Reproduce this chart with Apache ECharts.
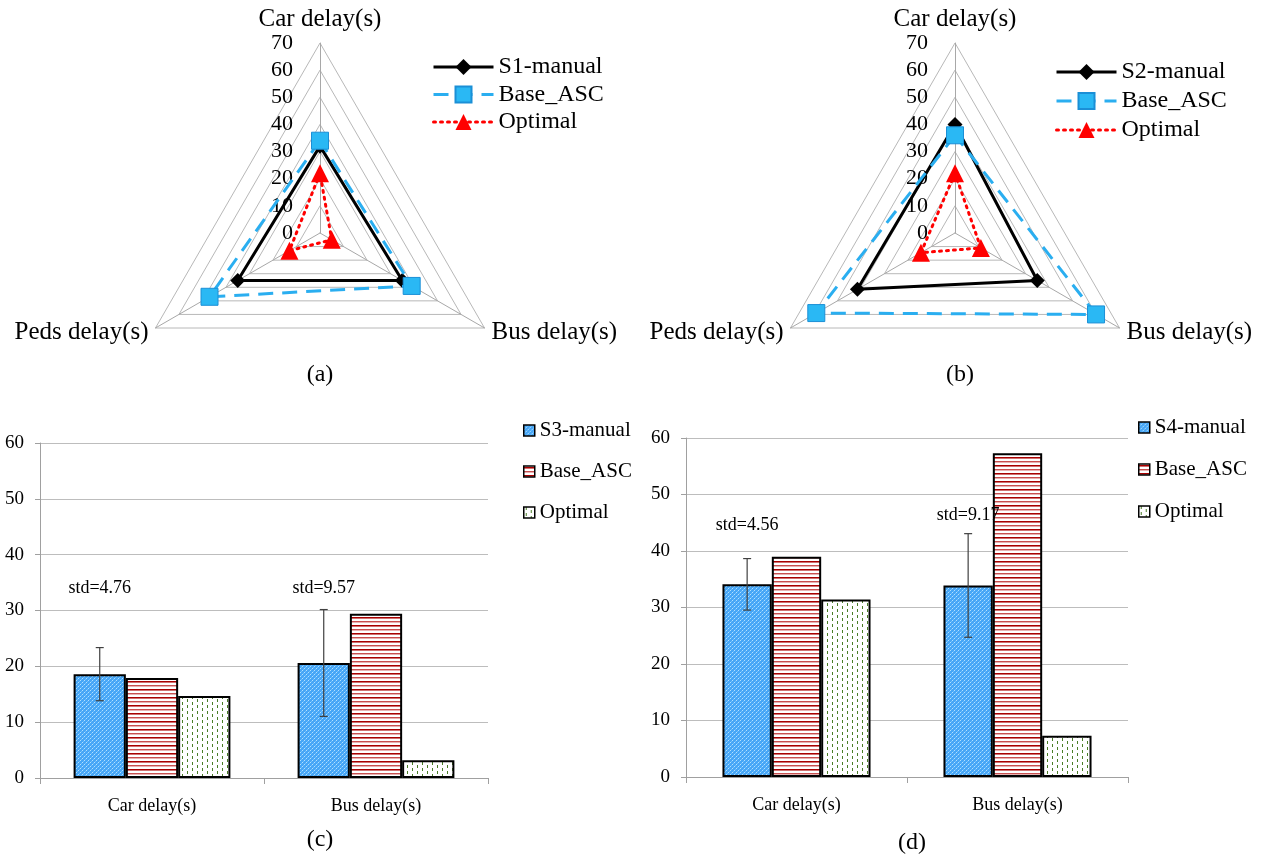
<!DOCTYPE html>
<html>
<head>
<meta charset="utf-8">
<script src="https://cdn.jsdelivr.net/npm/echarts@6/dist/echarts.min.js"></script>
<style>
html,body{margin:0;padding:0;background:#fff;}
#main{width:1261px;height:856px;}
</style>
</head>
<body>
<div id="main"></div>
<script>
// ---------- DATA ----------
const radarAxes = ['Car delay(s)', 'Peds delay(s)', 'Bus delay(s)'];
const radarMax = 70;
const radarTicks = [0, 10, 20, 30, 40, 50, 60, 70];

const radarA_S1 = [32, 35, 35];
const radarA_Base = [34, 47, 39];
const radarA_Opt = [22, 13, 5];

const radarB_S2 = [40, 41.5, 35];
const radarB_Base = [36, 59, 60];
const radarB_Opt = [22, 14.5, 11];

const barCategories = ['Car delay(s)', 'Bus delay(s)'];
const barTicks = [0, 10, 20, 30, 40, 50, 60];

const barC_S3 = [18.6, 20.6];
const barC_Base = [17.9, 29.4];
const barC_Opt = [14.7, 3.2];
const barC_std = [4.76, 9.57];

const barD_S4 = [34.1, 33.9];
const barD_Base = [39.0, 57.3];
const barD_Opt = [31.4, 7.3];
const barD_std = [4.56, 9.17];

const seriesNames = ['S1-manual', 'S2-manual', 'S3-manual', 'S4-manual', 'Base_ASC', 'Optimal'];
const captions = ['(a)', '(b)', '(c)', '(d)'];

// ---------- STYLE / LAYOUT ----------
const FONT = "'Liberation Serif', 'Times New Roman', serif";
const stdLabelYC = [34, 34];
const stdLabelYD = [44.6, 46.3];
const gapC = 0.30, gapD = 0.33;

function makePattern(w, h, bg, pixels) {
  const c = document.createElement('canvas');
  c.width = w; c.height = h;
  const ctx = c.getContext('2d');
  ctx.fillStyle = bg; ctx.fillRect(0, 0, w, h);
  pixels.forEach(p => { ctx.fillStyle = p[4]; ctx.fillRect(p[0], p[1], p[2], p[3]); });
  return { image: c, repeat: 'repeat' };
}
const bluePat = makePattern(4, 4, '#47a6f6', [
  [0,0,1,1,'#b0e0ff'], [2,2,1,1,'#b0e0ff'], [1,3,1,1,'#70c0ff'], [3,1,1,1,'#70c0ff']
]);
const redPat = makePattern(4, 8, '#ffffff', [
  [0,1,4,1,'#a80000'], [0,2,4,1,'#d07070'], [0,5,4,1,'#c85050'], [0,6,4,1,'#e8b0b0']
]);
const greenPat = makePattern(10, 6, '#ffffff', [
  [2,0,1,3,'#4a7d26'], [7,3,1,3,'#4a7d26']
]);

const blueLine = '#2aaef0';
const styleS = { color: '#000', lineStyle: { color: '#000', width: 3, type: 'solid' }, symbol: 'diamond', symbolSize: 15,
  itemStyle: { color: '#000' } };
const styleBase = { color: blueLine, lineStyle: { color: blueLine, width: 3, type: [15, 9] }, symbol: 'rect', symbolSize: 17,
  itemStyle: { color: '#2ab8f4', borderColor: '#1b8fd6', borderWidth: 1 } };
const styleOpt = { color: '#ff0000', lineStyle: { color: '#ff0000', width: 3, type: [2, 5], cap: 'round' }, symbol: 'triangle', symbolSize: 18,
  itemStyle: { color: '#ff0000' } };

function radarComp(cx) {
  return {
    center: [cx, 233], radius: 190, startAngle: 90, shape: 'polygon', splitNumber: radarTicks.length - 1,
    indicator: radarAxes.map((n, i) => {
      const o = { name: n, min: radarTicks[0], max: radarMax };
      if (i === 0) o.axisLabel = { show: true };
      return o;
    }),
    nameGap: 8,
    axisName: { color: '#000', fontFamily: FONT, fontSize: 25 },
    axisLine: { lineStyle: { color: '#a8a8a8', width: 1 } },
    splitLine: { lineStyle: { color: ['#b8b8b8'], width: 1 } },
    splitArea: { show: false },
    axisTick: { show: false },
    axisLabel: { show: false, color: '#000', fontFamily: FONT, fontSize: 22, margin: 27, showMinLabel: true }
  };
}

function radarSeries(idx, name, vals, st, z) {
  return {
    type: 'radar', radarIndex: idx, name: name, z: z,
    symbol: st.symbol, symbolSize: st.symbolSize,
    lineStyle: st.lineStyle, itemStyle: st.itemStyle,
    data: [{ value: vals, name: name }]
  };
}
function dummyLine(name, st) {
  return { type: 'line', name: name, xAxisIndex: 0, yAxisIndex: 0, data: [],
    symbol: st.symbol, symbolSize: st.symbolSize, lineStyle: st.lineStyle, itemStyle: st.itemStyle };
}

function gridAxes(idx) {
  return {
    x: { type: 'category', gridIndex: idx, data: barCategories,
      axisLine: { lineStyle: { color: '#a0a0a0' } },
      axisTick: { show: true, alignWithLabel: false, length: 6, lineStyle: { color: '#a0a0a0' } },
      axisLabel: { color: '#000', fontFamily: FONT, fontSize: 18, margin: 19 } },
    y: { type: 'value', gridIndex: idx, min: barTicks[0], max: barTicks[barTicks.length - 1], interval: barTicks[1] - barTicks[0],
      axisLine: { show: true, lineStyle: { color: '#a0a0a0' } },
      axisTick: { show: true, length: 5, lineStyle: { color: '#a0a0a0' } },
      splitLine: { lineStyle: { color: '#bdbdbd' } },
      axisLabel: { color: '#000', fontFamily: FONT, fontSize: 19, margin: 16 } }
  };
}
const gA = gridAxes(0), gB = gridAxes(1);

function barSeries(idx, name, vals, pat, gap) {
  return { type: 'bar', name: name, xAxisIndex: idx, yAxisIndex: idx, data: vals,
    barCategoryGap: (gap * 100) + '%', barGap: '0%',
    itemStyle: { color: pat, borderColor: '#000', borderWidth: 2 } };
}

function errSeries(idx, means, stds, labelY, gap) {
  return {
    type: 'custom', xAxisIndex: idx, yAxisIndex: idx, z: 10,
    data: means.map((m, i) => [i, m, stds[i], labelY[i]]),
    renderItem: function (params, api) {
      const cat = api.value(0), m = api.value(1), s = api.value(2), ly = api.value(3);
      const catW = api.size([1, 0])[0];
      const off = -catW * (1 - gap) / 3;
      const t = api.coord([cat, m + s]), b = api.coord([cat, m - s]), l = api.coord([cat, ly]);
      const x = t[0] + off;
      const ls = { stroke: '#404040', lineWidth: 1.2 };
      return { type: 'group', children: [
        { type: 'line', shape: { x1: x, y1: t[1], x2: x, y2: b[1] }, style: ls },
        { type: 'line', shape: { x1: x - 4, y1: t[1], x2: x + 4, y2: t[1] }, style: ls },
        { type: 'line', shape: { x1: x - 4, y1: b[1], x2: x + 4, y2: b[1] }, style: ls },
        { type: 'text', x: x, y: l[1], style: { text: 'std=' + s.toFixed(2), align: 'center', verticalAlign: 'middle',
          fill: '#000', font: '18px ' + FONT } }
      ] };
    }
  };
}

function radarLegend(left, top, gap, first) {
  return { orient: 'vertical', left: left, top: top, padding: 0, itemWidth: 60, itemHeight: 20, itemGap: gap,
    selectedMode: false,
    lineStyle: { width: 3 },
    textStyle: { color: '#000', fontFamily: FONT, fontSize: 24, lineHeight: 24 },
    data: [first, 'Base_ASC', 'Optimal'] };
}
function barLegend(left, top, gap, first) {
  const pats = [bluePat, redPat, greenPat];
  return { orient: 'vertical', left: left, top: top, padding: 0, itemWidth: 11, itemHeight: 11, itemGap: gap,
    selectedMode: false,
    textStyle: { color: '#000', fontFamily: FONT, fontSize: 21, lineHeight: 20 },
    data: [first, 'Base_ASC', 'Optimal'].map((n, i) => ({ name: n, icon: 'rect',
      itemStyle: { color: pats[i], borderColor: '#000', borderWidth: 1.5 } })) };
}

const chart = echarts.init(document.getElementById('main'), null, { renderer: 'canvas' });
const option = {
  backgroundColor: '#fff',
  animation: false,
  textStyle: { fontFamily: FONT },
  radar: [radarComp(320), radarComp(955)],
  grid: [
    { left: 40, right: 773, top: 443, bottom: 78, containLabel: false },
    { left: 686, right: 133, top: 438, bottom: 79, containLabel: false }
  ],
  xAxis: [gA.x, gB.x],
  yAxis: [gA.y, gB.y],
  legend: [
    radarLegend(432, 55, 3.5, seriesNames[0]),
    radarLegend(1055, 60, 5, seriesNames[1]),
    barLegend(523, 420, 20, seriesNames[2]),
    barLegend(1138, 417, 21, seriesNames[3])
  ],
  graphic: [
    { type: 'text', x: 320, y: 375, style: { text: captions[0], align: 'center', verticalAlign: 'middle', font: '24px ' + FONT, fill: '#000' } },
    { type: 'text', x: 960, y: 375, style: { text: captions[1], align: 'center', verticalAlign: 'middle', font: '24px ' + FONT, fill: '#000' } },
    { type: 'text', x: 320, y: 840, style: { text: captions[2], align: 'center', verticalAlign: 'middle', font: '24px ' + FONT, fill: '#000' } },
    { type: 'text', x: 912, y: 843, style: { text: captions[3], align: 'center', verticalAlign: 'middle', font: '24px ' + FONT, fill: '#000' } }
  ],
  series: [
    dummyLine('S1-manual', styleS),
    dummyLine('S2-manual', styleS),
    dummyLine('Base_ASC', styleBase),
    dummyLine('Optimal', styleOpt),
    radarSeries(0, 'S1-manual', radarA_S1, styleS, 2),
    radarSeries(0, 'Base_ASC', radarA_Base, styleBase, 3),
    radarSeries(0, 'Optimal', radarA_Opt, styleOpt, 4),
    radarSeries(1, 'S2-manual', radarB_S2, styleS, 2),
    radarSeries(1, 'Base_ASC', radarB_Base, styleBase, 3),
    radarSeries(1, 'Optimal', radarB_Opt, styleOpt, 4),
    barSeries(0, 'S3-manual', barC_S3, bluePat, gapC),
    barSeries(0, 'Base_ASC', barC_Base, redPat, gapC),
    barSeries(0, 'Optimal', barC_Opt, greenPat, gapC),
    errSeries(0, barC_S3, barC_std, stdLabelYC, gapC),
    barSeries(1, 'S4-manual', barD_S4, bluePat, gapD),
    barSeries(1, 'Base_ASC', barD_Base, redPat, gapD),
    barSeries(1, 'Optimal', barD_Opt, greenPat, gapD),
    errSeries(1, barD_S4, barD_std, stdLabelYD, gapD)
  ]
};
chart.setOption(option);
</script>
</body>
</html>
